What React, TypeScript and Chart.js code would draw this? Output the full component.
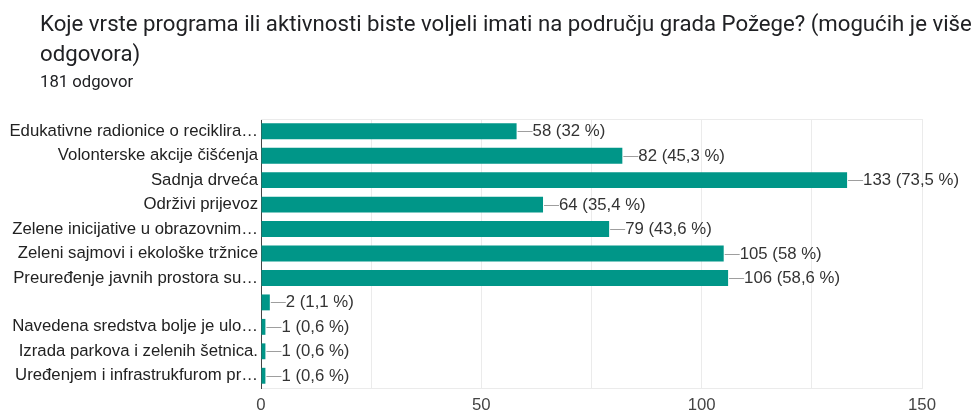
import React, { useEffect, useRef } from "react";
import { Chart, registerables } from "chart.js";

Chart.register(...registerables);

const titleLine1 =
  "Koje vrste programa ili aktivnosti biste voljeli imati na području grada Požege? (mogućih je više";
const titleLine2 = "odgovora)";
const subtitle = "181 odgovor";

const categories = [
  "Edukativne radionice o reciklira…",
  "Volonterske akcije čišćenja",
  "Sadnja drveća",
  "Održivi prijevoz",
  "Zelene inicijative u obrazovnim…",
  "Zeleni sajmovi i ekološke tržnice",
  "Preuređenje javnih prostora su…",
  "",
  "Navedena sredstva bolje je ulo…",
  "Izrada parkova i zelenih šetnica.",
  "Uređenjem i infrastrukfurom pr…",
];
const counts = [58, 82, 133, 64, 79, 105, 106, 2, 1, 1, 1];
const percentLabels = [
  "32 %",
  "45,3 %",
  "73,5 %",
  "35,4 %",
  "43,6 %",
  "58 %",
  "58,6 %",
  "1,1 %",
  "0,6 %",
  "0,6 %",
  "0,6 %",
];
const xMin = 0;
const xMax = 150;
const xStep = 25;
const labelledTicks = [0, 50, 100, 150];

const BAR = "#009688";
const FONT = "'Liberation Sans', Arial, sans-serif";
const FS = 16.75;

const valueLabelPlugin = {
  id: "valueLabels",
  beforeDatasetsDraw(chart: any) {
    const { ctx, chartArea } = chart;
    ctx.save();
    ctx.strokeStyle = "#ebebeb";
    ctx.lineWidth = 1;
    ctx.beginPath();
    ctx.moveTo(chartArea.left, chartArea.top + 0.5);
    ctx.lineTo(chartArea.right, chartArea.top + 0.5);
    ctx.stroke();
    ctx.restore();
  },
  afterDatasetsDraw(chart: any) {
    const { ctx } = chart;
    const meta = chart.getDatasetMeta(0);
    ctx.save();
    ctx.font = `${FS}px ${FONT}`;
    ctx.textBaseline = "middle";
    ctx.textAlign = "left";
    meta.data.forEach((bar: any, i: number) => {
      const x = bar.x;
      const y = Math.round(bar.y) + 0.5;
      ctx.strokeStyle = "#9e9e9e";
      ctx.lineWidth = 1;
      ctx.beginPath();
      ctx.moveTo(x + 1, y);
      ctx.lineTo(x + 16, y);
      ctx.stroke();
      ctx.fillStyle = "#333333";
      ctx.fillText(`${counts[i]} (${percentLabels[i]})`, x + 16, y);
    });
    ctx.restore();
  },
};

export default function App() {
  const ref = useRef<HTMLCanvasElement | null>(null);

  useEffect(() => {
    if (!ref.current) return;
    const chart = new Chart(ref.current, {
      type: "bar",
      data: {
        labels: categories,
        datasets: [
          {
            data: counts,
            backgroundColor: BAR,
            borderWidth: 0,
            categoryPercentage: 1,
            barPercentage: 0.65,
          },
        ],
      },
      options: {
        indexAxis: "y",
        responsive: false,
        animation: false,
        devicePixelRatio: 1,
        layout: { padding: { top: 119, right: 51, left: 0, bottom: 0 } },
        plugins: {
          legend: { display: false },
          tooltip: { enabled: false },
          title: { display: false },
        },
        scales: {
          x: {
            min: xMin,
            max: xMax,
            afterFit: (s: any) => {
              s.height = 24;
            },
            afterBuildTicks: (s: any) => {
              const t = [];
              for (let v = xMin; v <= xMax; v += xStep) t.push({ value: v });
              s.ticks = t;
            },
            ticks: {
              autoSkip: false,
              maxRotation: 0,
              padding: 7,
              color: "#444444",
              font: { family: FONT, size: FS },
              callback: (v: any) => (labelledTicks.includes(Number(v)) ? String(v) : ""),
            },
            grid: { color: "#ebebeb", drawTicks: false, lineWidth: 1 },
            border: { display: true, color: "#ebebeb" },
          },
          y: {
            afterFit: (s: any) => {
              s.width = 261;
            },
            ticks: {
              autoSkip: false,
              padding: 3,
              color: "#222222",
              font: { family: FONT, size: FS },
            },
            grid: { display: false, drawTicks: false },
            border: { display: true, color: "#444444", width: 1 },
          },
        },
      },
      plugins: [valueLabelPlugin],
    });
    return () => chart.destroy();
  }, []);

  return (
    <div
      style={{
        position: "absolute",
        left: 0,
        top: 0,
        width: 973,
        height: 412,
        background: "#ffffff",
        overflow: "hidden",
      }}
    >
      <canvas
        ref={ref}
        width={973}
        height={412}
        style={{ position: "absolute", left: 0, top: 0, width: 973, height: 412 }}
      />
      <div
        style={{
          position: "absolute",
          left: 40,
          top: 8,
          fontFamily: "Roboto, 'Noto Sans', sans-serif",
          fontSize: 22.2,
          lineHeight: "30px",
          color: "#202124",
          whiteSpace: "nowrap",
        }}
      >
        {titleLine1}
        <br />
        {titleLine2}
      </div>
      <div
        style={{
          position: "absolute",
          left: 40,
          top: 72,
          fontFamily: "Roboto, 'Noto Sans', sans-serif",
          fontSize: 16.7,
          lineHeight: "20px",
          color: "#202124",
          whiteSpace: "nowrap",
        }}
      >
        {subtitle}
      </div>
    </div>
  );
}
